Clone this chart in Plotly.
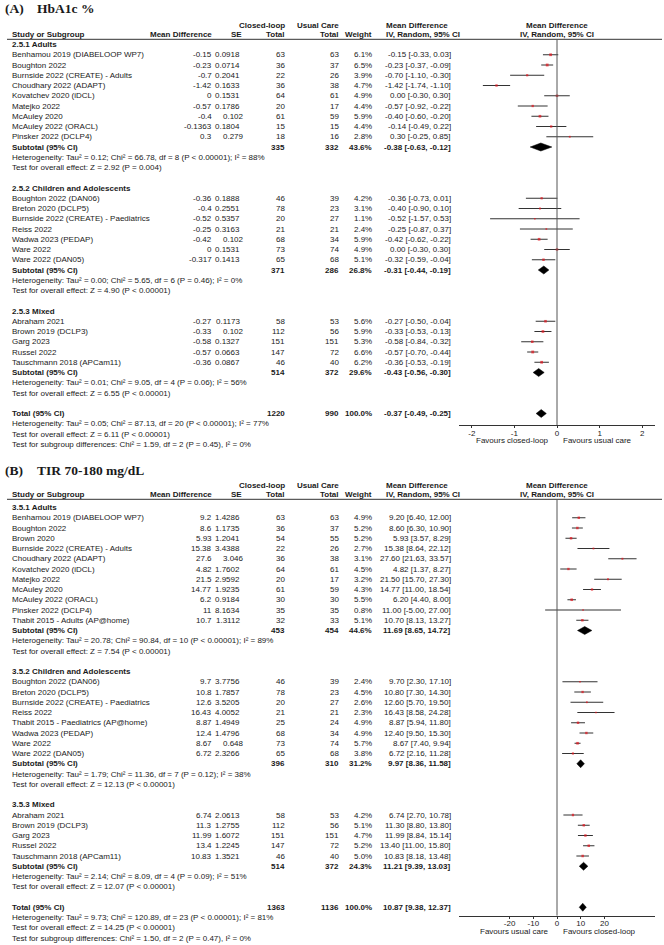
import math
import plotly.graph_objects as go

# ---------------- Panel A : HbA1c % ----------------
A_TITLE = ("(A)", "HbA1c %")
A_GROUP_NAMES = ["2.5.1 Adults", "2.5.2 Children and Adolescents", "2.5.3 Mixed"]
A_GROUP_SIZES = [9, 7, 5]
A_STUDY = [
    "Benhamou 2019 (DIABELOOP WP7)", "Boughton 2022", "Burnside 2022 (CREATE) - Adults",
    "Choudhary 2022 (ADAPT)", "Kovatchev 2020 (iDCL)", "Matejko 2022", "McAuley 2020",
    "McAuley 2022 (ORACL)", "Pinsker 2022 (DCLP4)",
    "Boughton 2022 (DAN06)", "Breton 2020 (DCLP5)", "Burnside 2022 (CREATE) - Paediatrics",
    "Reiss 2022", "Wadwa 2023 (PEDAP)", "Ware 2022", "Ware 2022 (DAN05)",
    "Abraham 2021", "Brown 2019 (DCLP3)", "Garg 2023", "Russel 2022", "Tauschmann 2018 (APCam11)",
]
A_MD = [-0.15, -0.23, -0.7, -1.42, 0, -0.57, -0.4, -0.1363, 0.3,
        -0.36, -0.4, -0.52, -0.25, -0.42, 0, -0.317,
        -0.27, -0.33, -0.58, -0.57, -0.36]
A_SE = [0.0918, 0.0714, 0.2041, 0.1633, 0.1531, 0.1786, 0.102, 0.1804, 0.279,
        0.1888, 0.2551, 0.5357, 0.3163, 0.102, 0.1531, 0.1413,
        0.1173, 0.102, 0.1327, 0.0663, 0.0867]
A_N1 = [63, 36, 22, 36, 64, 20, 61, 15, 18, 46, 78, 20, 21, 68, 73, 65, 58, 112, 151, 147, 46]
A_N2 = [63, 37, 26, 38, 61, 17, 59, 15, 16, 39, 23, 27, 21, 34, 74, 68, 53, 56, 151, 72, 40]
A_W = [6.1, 6.5, 3.9, 4.7, 4.9, 4.4, 5.9, 4.4, 2.8, 4.2, 3.1, 1.1, 2.4, 5.9, 4.9, 5.1,
       5.6, 5.9, 5.3, 6.6, 6.2]
A_LO = [-0.33, -0.37, -1.10, -1.74, -0.30, -0.92, -0.60, -0.49, -0.25,
        -0.73, -0.90, -1.57, -0.87, -0.62, -0.30, -0.59,
        -0.50, -0.53, -0.84, -0.70, -0.53]
A_HI = [0.03, -0.09, -0.30, -1.10, 0.30, -0.22, -0.20, 0.22, 0.85,
        0.01, 0.10, 0.53, 0.37, -0.22, 0.30, -0.04,
        -0.04, -0.13, -0.32, -0.44, -0.19]
A_SUB_N1 = [335, 371, 514]
A_SUB_N2 = [332, 286, 372]
A_SUB_W = [43.6, 26.8, 29.6]
A_SUB_MD = [-0.38, -0.31, -0.43]
A_SUB_LO = [-0.63, -0.44, -0.56]
A_SUB_HI = [-0.12, -0.19, -0.30]
A_HET = [
    "Heterogeneity: Tau² = 0.12; Chi² = 66.78, df = 8 (P < 0.00001); I² = 88%",
    "Heterogeneity: Tau² = 0.00; Chi² = 5.65, df = 6 (P = 0.46); I² = 0%",
    "Heterogeneity: Tau² = 0.01; Chi² = 9.05, df = 4 (P = 0.06); I² = 56%",
]
A_TEST = [
    "Test for overall effect: Z = 2.92 (P = 0.004)",
    "Test for overall effect: Z = 4.90 (P < 0.00001)",
    "Test for overall effect: Z = 6.55 (P < 0.00001)",
]
A_TOTAL = dict(n1=1220, n2=990, w=100.0, md=-0.37, lo=-0.49, hi=-0.25)
A_TOTAL_TEXT = [
    "Heterogeneity: Tau² = 0.05; Chi² = 87.13, df = 20 (P < 0.00001); I² = 77%",
    "Test for overall effect: Z = 6.11 (P < 0.00001)",
    "Test for subgroup differences: Chi² = 1.59, df = 2 (P = 0.45), I² = 0%",
]
A_TICKS = [-2, -1, 0, 1, 2]
A_FAVOURS = ("Favours closed-loop", "Favours usual care")

# ---------------- Panel B : TIR 70-180 mg/dL ----------------
B_TITLE = ("(B)", "TIR 70-180 mg/dL")
B_GROUP_NAMES = ["3.5.1 Adults", "3.5.2 Children and Adolescents", "3.5.3 Mixed"]
B_GROUP_SIZES = [11, 8, 5]
B_STUDY = [
    "Benhamou 2019 (DIABELOOP WP7)", "Boughton 2022", "Brown 2020", "Burnside 2022 (CREATE) - Adults",
    "Choudhary 2022 (ADAPT)", "Kovatchev 2020 (iDCL)", "Matejko 2022", "McAuley 2020",
    "McAuley 2022 (ORACL)", "Pinsker 2022 (DCLP4)", "Thabit 2015 - Adults (AP@home)",
    "Boughton 2022 (DAN06)", "Breton 2020 (DCLP5)", "Burnside 2022 (CREATE) - Paediatrics",
    "Reiss 2022", "Thabit 2015 - Paediatrics (AP@home)", "Wadwa 2023 (PEDAP)", "Ware 2022",
    "Ware 2022 (DAN05)",
    "Abraham 2021", "Brown 2019 (DCLP3)", "Garg 2023", "Russel 2022", "Tauschmann 2018 (APCam11)",
]
B_MD = [9.2, 8.6, 5.93, 15.38, 27.6, 4.82, 21.5, 14.77, 6.2, 11, 10.7,
        9.7, 10.8, 12.6, 16.43, 8.87, 12.4, 8.67, 6.72,
        6.74, 11.3, 11.99, 13.4, 10.83]
B_SE = [1.4286, 1.1735, 1.2041, 3.4388, 3.046, 1.7602, 2.9592, 1.9235, 0.9184, 8.1634, 1.3112,
        3.7756, 1.7857, 3.5205, 4.0052, 1.4949, 1.4796, 0.648, 2.3266,
        2.0613, 1.2755, 1.6072, 1.2245, 1.3521]
B_N1 = [63, 36, 54, 22, 36, 64, 20, 61, 30, 35, 32, 46, 78, 20, 21, 25, 68, 73, 65,
        58, 112, 151, 147, 46]
B_N2 = [63, 37, 55, 26, 38, 61, 17, 59, 30, 35, 33, 39, 23, 27, 21, 24, 34, 74, 68,
        53, 56, 151, 72, 40]
B_W = [4.9, 5.2, 5.2, 2.7, 3.1, 4.5, 3.2, 4.3, 5.5, 0.8, 5.1,
       2.4, 4.5, 2.6, 2.3, 4.9, 4.9, 5.7, 3.8,
       4.2, 5.1, 4.7, 5.2, 5.0]
B_LO = [6.40, 6.30, 3.57, 8.64, 21.63, 1.37, 15.70, 11.00, 4.40, -5.00, 8.13,
        2.30, 7.30, 5.70, 8.58, 5.94, 9.50, 7.40, 2.16,
        2.70, 8.80, 8.84, 11.00, 8.18]
B_HI = [12.00, 10.90, 8.29, 22.12, 33.57, 8.27, 27.30, 18.54, 8.00, 27.00, 13.27,
        17.10, 14.30, 19.50, 24.28, 11.80, 15.30, 9.94, 11.28,
        10.78, 13.80, 15.14, 15.80, 13.48]
B_SUB_N1 = [453, 396, 514]
B_SUB_N2 = [454, 310, 372]
B_SUB_W = [44.6, 31.2, 24.3]
B_SUB_MD = [11.69, 9.97, 11.21]
B_SUB_LO = [8.65, 8.36, 9.39]
B_SUB_HI = [14.72, 11.58, 13.03]
B_HET = [
    "Heterogeneity: Tau² = 20.78; Chi² = 90.84, df = 10 (P < 0.00001); I² = 89%",
    "Heterogeneity: Tau² = 1.79; Chi² = 11.36, df = 7 (P = 0.12); I² = 38%",
    "Heterogeneity: Tau² = 2.14; Chi² = 8.09, df = 4 (P = 0.09); I² = 51%",
]
B_TEST = [
    "Test for overall effect: Z = 7.54 (P < 0.00001)",
    "Test for overall effect: Z = 12.13 (P < 0.00001)",
    "Test for overall effect: Z = 12.07 (P < 0.00001)",
]
B_TOTAL = dict(n1=1363, n2=1136, w=100.0, md=10.87, lo=9.38, hi=12.37)
B_TOTAL_TEXT = [
    "Heterogeneity: Tau² = 9.73; Chi² = 120.89, df = 23 (P < 0.00001); I² = 81%",
    "Test for overall effect: Z = 14.25 (P < 0.00001)",
    "Test for subgroup differences: Chi² = 1.50, df = 2 (P = 0.47), I² = 0%",
]
B_TICKS = [-20, -10, 0, 10, 20]
B_FAVOURS = ("Favours usual care", "Favours closed-loop")

# ---------------- layout constants ----------------
W, H = 664, 945
FONT = "Arial, 'Liberation Sans', sans-serif"
SERIF = "'Times New Roman', 'Liberation Serif', serif"
TXT = "#1a1a1a"
FS = 8
ROW = 10.25
X_NAME, X_MD, X_N1, X_N2, X_W, X_CI_L, X_CI_R = 10, 214, 287, 341, 374, 384, 453
PLOT_L, PLOT_R, X_ZERO = 459, 655, 557

fig = go.Figure()
ann = []
shapes = []


def t(x, y, s, anchor="left", bold=False, size=FS, family=FONT):
    ann.append(dict(x=x, y=y, xref="x", yref="y", text=f"<b>{s}</b>" if bold else s,
                    showarrow=False, xanchor=anchor, yanchor="middle",
                    font=dict(family=family, size=size, color=TXT)))


def ci_text(md, lo, hi):
    return f"{md:.2f} [{lo:.2f}, {hi:.2f}]"


def se_right(v):
    s = f"{v:g}"
    dec = len(s.split(".")[1]) if "." in s else 0
    return 242 if dec >= 4 else 246


def panel(title, y_title, y_head, y_first, names, sizes, study, md, se, n1, n2, w, lo, hi,
          sn1, sn2, sw, smd, slo, shi, het, test, tot, tot_text, ticks, favours,
          half_range, axis_off, xa, ya):
    # title
    t(3, y_title, f"<b>{title[0]}</b>", size=13.5, family=SERIF)
    t(35, y_title, f"<b>{title[1]}</b>", size=13.5, family=SERIF)
    # headers
    y1, y2 = y_head, y_head + 9.7
    t(X_N1, y1, "Closed-loop", "right", True)
    t(X_N2, y1, "Usual Care", "right", True)
    t(X_CI_L, y1, "Mean Difference", "left", True)
    t(X_ZERO, y1, "Mean Difference", "center", True)
    t(X_NAME, y2, "Study or Subgroup", "left", True)
    t(X_MD, y2, "Mean Difference", "right", True)
    t(244, y2, "SE", "right", True)
    t(X_N1, y2, "Total", "right", True)
    t(X_N2, y2, "Total", "right", True)
    t(X_W, y2, "Weight", "right", True)
    t(X_CI_L, y2, "IV, Random, 95% CI", "left", True)
    t(X_ZERO, y2, "IV, Random, 95% CI", "center", True)
    y_line = y2 + 4.6
    shapes.append(dict(type="line", xref="x", yref="y", x0=7, x1=662, y0=y_line, y1=y_line,
                       line=dict(color="#333", width=1)))

    lines_x, lines_y, sq_x, sq_y, sq_s = [], [], [], [], []
    dia_x, dia_y = [], []
    idx = 0
    k = 0
    for g, n in enumerate(sizes):
        t(X_NAME, y_first + idx * ROW, names[g], "left", True)
        idx += 1
        for _ in range(n):
            y = y_first + idx * ROW
            t(X_NAME, y, study[k])
            t(X_MD, y, f"{md[k]:g}", "right")
            t(se_right(se[k]), y, f"{se[k]:g}", "right")
            t(X_N1, y, str(n1[k]), "right")
            t(X_N2, y, str(n2[k]), "right")
            t(X_W, y, f"{w[k]:.1f}%", "right")
            t(X_CI_R, y, ci_text(md[k], lo[k], hi[k]), "right")
            lines_x += [lo[k], hi[k], None]
            lines_y += [y, y, None]
            sq_x.append(md[k]); sq_y.append(y); sq_s.append(max(1.6, 1.1 * math.sqrt(w[k])))
            idx += 1
            k += 1
        y = y_first + idx * ROW
        t(X_NAME, y, "Subtotal (95% CI)", "left", True)
        t(X_N1, y, str(sn1[g]), "right", True)
        t(X_N2, y, str(sn2[g]), "right", True)
        t(X_W, y, f"{sw[g]:.1f}%", "right", True)
        t(X_CI_R, y, ci_text(smd[g], slo[g], shi[g]), "right", True)
        dia_x += [slo[g], smd[g], shi[g], smd[g], slo[g], None]
        dia_y += [y, y - 4, y, y + 4, y, None]
        t(X_NAME, y + ROW, het[g])
        t(X_NAME, y + 2 * ROW, test[g])
        idx += 4
    y = y_first + idx * ROW
    t(X_NAME, y, "Total (95% CI)", "left", True)
    t(X_N1, y, str(tot["n1"]), "right", True)
    t(X_N2, y, str(tot["n2"]), "right", True)
    t(X_W, y, f"{tot['w']:.1f}%", "right", True)
    t(X_CI_R, y, ci_text(tot["md"], tot["lo"], tot["hi"]), "right", True)
    dia_x += [tot["lo"], tot["md"], tot["hi"], tot["md"], tot["lo"], None]
    dia_y += [y, y - 4, y, y + 4, y, None]
    for j, s in enumerate(tot_text):
        t(X_NAME, y + (j + 1) * ROW, s)
    y_axis = y + axis_off
    t(551, y_axis + 15.5, favours[0], "right")
    t(561, y_axis + 15.5, favours[1], "left")

    xref = "x" + xa
    yref = "y" + ya
    shapes.append(dict(type="line", xref=xref, yref=yref, x0=0, x1=0, y0=y_line, y1=y_axis,
                       line=dict(color="#555", width=1)))
    fig.add_trace(go.Scatter(x=lines_x, y=lines_y, mode="lines", xaxis=xref, yaxis=yref,
                             line=dict(color="#333333", width=1), hoverinfo="skip",
                             showlegend=False))
    fig.add_trace(go.Scatter(x=dia_x, y=dia_y, mode="lines", fill="toself", fillcolor="black",
                             xaxis=xref, yaxis=yref, line=dict(color="black", width=0.5),
                             hoverinfo="skip", showlegend=False))
    fig.add_trace(go.Scatter(x=sq_x, y=sq_y, mode="markers", xaxis=xref, yaxis=yref,
                             marker=dict(symbol="square", color="#e3121b", size=sq_s,
                                         line=dict(width=0)),
                             hoverinfo="skip", showlegend=False))
    axis_x = dict(domain=[PLOT_L / W, PLOT_R / W], range=[-half_range, half_range],
                  anchor="y" + ya, showline=True, linecolor="#333", linewidth=1,
                  ticks="outside", ticklen=2, tickcolor="#333", tickvals=ticks,
                  ticktext=[str(v) for v in ticks], showgrid=False, zeroline=False,
                  ticklabelstandoff=-2,
                  tickfont=dict(family=FONT, size=FS, color=TXT))
    axis_y = dict(domain=[1 - y_axis / H, 1], range=[y_axis, 0], visible=False,
                  anchor="x" + xa, showgrid=False, zeroline=False)
    return axis_x, axis_y


ax2, ay2 = panel(A_TITLE, 8, 25, 44.5, A_GROUP_NAMES, A_GROUP_SIZES, A_STUDY, A_MD, A_SE,
                 A_N1, A_N2, A_W, A_LO, A_HI, A_SUB_N1, A_SUB_N2, A_SUB_W, A_SUB_MD,
                 A_SUB_LO, A_SUB_HI, A_HET, A_TEST, A_TOTAL, A_TOTAL_TEXT, A_TICKS,
                 A_FAVOURS, 2.3, 11.5, "2", "2")
ax3, ay3 = panel(B_TITLE, 470, 485, 507.5, B_GROUP_NAMES, B_GROUP_SIZES, B_STUDY, B_MD, B_SE,
                 B_N1, B_N2, B_W, B_LO, B_HI, B_SUB_N1, B_SUB_N2, B_SUB_W, B_SUB_MD,
                 B_SUB_LO, B_SUB_HI, B_HET, B_TEST, B_TOTAL, B_TOTAL_TEXT, B_TICKS,
                 B_FAVOURS, 41.35, 8.5, "3", "3")

fig.update_layout(
    width=W, height=H, margin=dict(l=0, r=0, t=0, b=0),
    paper_bgcolor="white", plot_bgcolor="rgba(0,0,0,0)",
    xaxis=dict(domain=[0, 1], range=[0, W], visible=False, fixedrange=True),
    yaxis=dict(domain=[0, 1], range=[H, 0], visible=False, fixedrange=True),
    xaxis2=ax2, yaxis2=ay2, xaxis3=ax3, yaxis3=ay3,
    annotations=ann, shapes=shapes, showlegend=False,
)
fig.write_html("out.html", config={"displayModeBar": False},
               post_script="document.body.style.margin='0px';"
                           "document.body.style.overflow='hidden';")
